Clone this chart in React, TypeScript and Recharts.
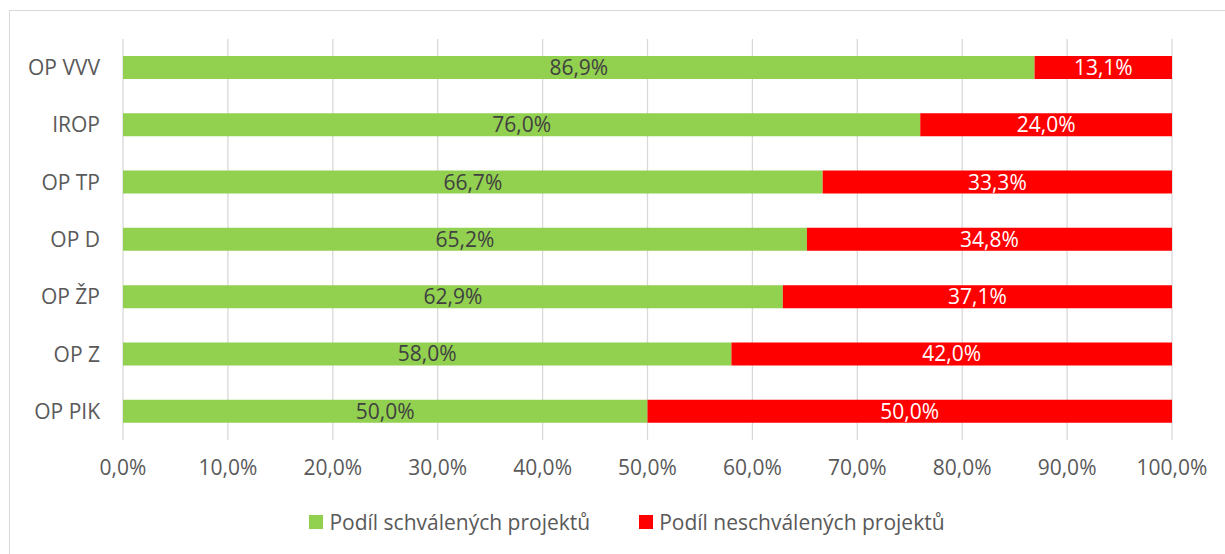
import React from "react";
import {
  BarChart,
  Bar,
  XAxis,
  YAxis,
  CartesianGrid,
  Legend,
  LabelList,
} from "recharts";

const categories = ["OP VVV", "IROP", "OP TP", "OP D", "OP ŽP", "OP Z", "OP PIK"];
const approved = [86.9, 76.0, 66.7, 65.2, 62.9, 58.0, 50.0];
const rejected = [13.1, 24.0, 33.3, 34.8, 37.1, 42.0, 50.0];
const xTicks = [0, 10, 20, 30, 40, 50, 60, 70, 80, 90, 100];

const seriesNames = {
  approved: "Podíl schválených projektů",
  rejected: "Podíl neschválených projektů",
};

const GREEN = "#92d050";
const RED = "#ff0000";
const TEXT = "#595959";

const data = categories.map((name, i) => ({
  name,
  approved: approved[i],
  rejected: rejected[i],
}));

const pct = (v: number) => `${v.toFixed(1).replace(".", ",")}%`;

const LegendContent = () => (
  <div
    style={{
      display: "flex",
      justifyContent: "center",
      gap: 49,
      color: TEXT,
      fontSize: 21,
      lineHeight: "24px",
      paddingLeft: 72,
    }}
  >
    {[
      { label: seriesNames.approved, color: GREEN },
      { label: seriesNames.rejected, color: RED },
    ].map((it) => (
      <div key={it.label} style={{ display: "flex", alignItems: "center" }}>
        <span
          style={{
            display: "inline-block",
            width: 14,
            height: 14,
            background: it.color,
            marginRight: 6,
          }}
        />
        <span>{it.label}</span>
      </div>
    ))}
  </div>
);

export default function App() {
  return (
    <div
      style={{
        position: "absolute",
        left: 0,
        top: 0,
        width: 1225,
        height: 554,
        overflow: "hidden",
        background: "#fff",
        fontFamily: "'Open Sans', sans-serif",
      }}
    >
      <div
        style={{
          position: "absolute",
          left: 9,
          top: 10,
          width: 1240,
          height: 560,
          border: "1px solid #d9d9d9",
        }}
      />
      <div style={{ position: "absolute", left: 0, top: 0 }}>
        <BarChart
          width={1225}
          height={554}
          data={data}
          layout="vertical"
          margin={{ top: 39, right: 53, left: 10, bottom: 20 }}
        >
          <CartesianGrid horizontal={false} stroke="#d9d9d9" strokeWidth={1.3} />
          <XAxis
            type="number"
            domain={[0, 100]}
            ticks={xTicks}
            tickFormatter={pct}
            axisLine={false}
            tickLine={false}
            tickSize={0}
            tickMargin={20}
            height={70}
            tick={{ fill: TEXT, fontSize: 21 }}
            interval={0}
          />
          <YAxis
            type="category"
            dataKey="name"
            width={113}
            axisLine={false}
            tickLine={false}
            tickSize={0}
            tickMargin={23}
            tick={{ fill: TEXT, fontSize: 21 }}
          />
          <Legend verticalAlign="bottom" content={<LegendContent />} />
          <Bar
            dataKey="approved"
            name={seriesNames.approved}
            stackId="a"
            fill={GREEN}
            barSize={23}
            isAnimationActive={false}
          >
            <LabelList
              dataKey="approved"
              position="center"
              formatter={(v: number) => pct(v)}
              fill="#404040"
              style={{ fontSize: 21 }}
            />
          </Bar>
          <Bar
            dataKey="rejected"
            name={seriesNames.rejected}
            stackId="a"
            fill={RED}
            barSize={23}
            isAnimationActive={false}
          >
            <LabelList
              dataKey="rejected"
              position="center"
              formatter={(v: number) => pct(v)}
              fill="#ffffff"
              style={{ fontSize: 21 }}
            />
          </Bar>
        </BarChart>
      </div>
    </div>
  );
}
